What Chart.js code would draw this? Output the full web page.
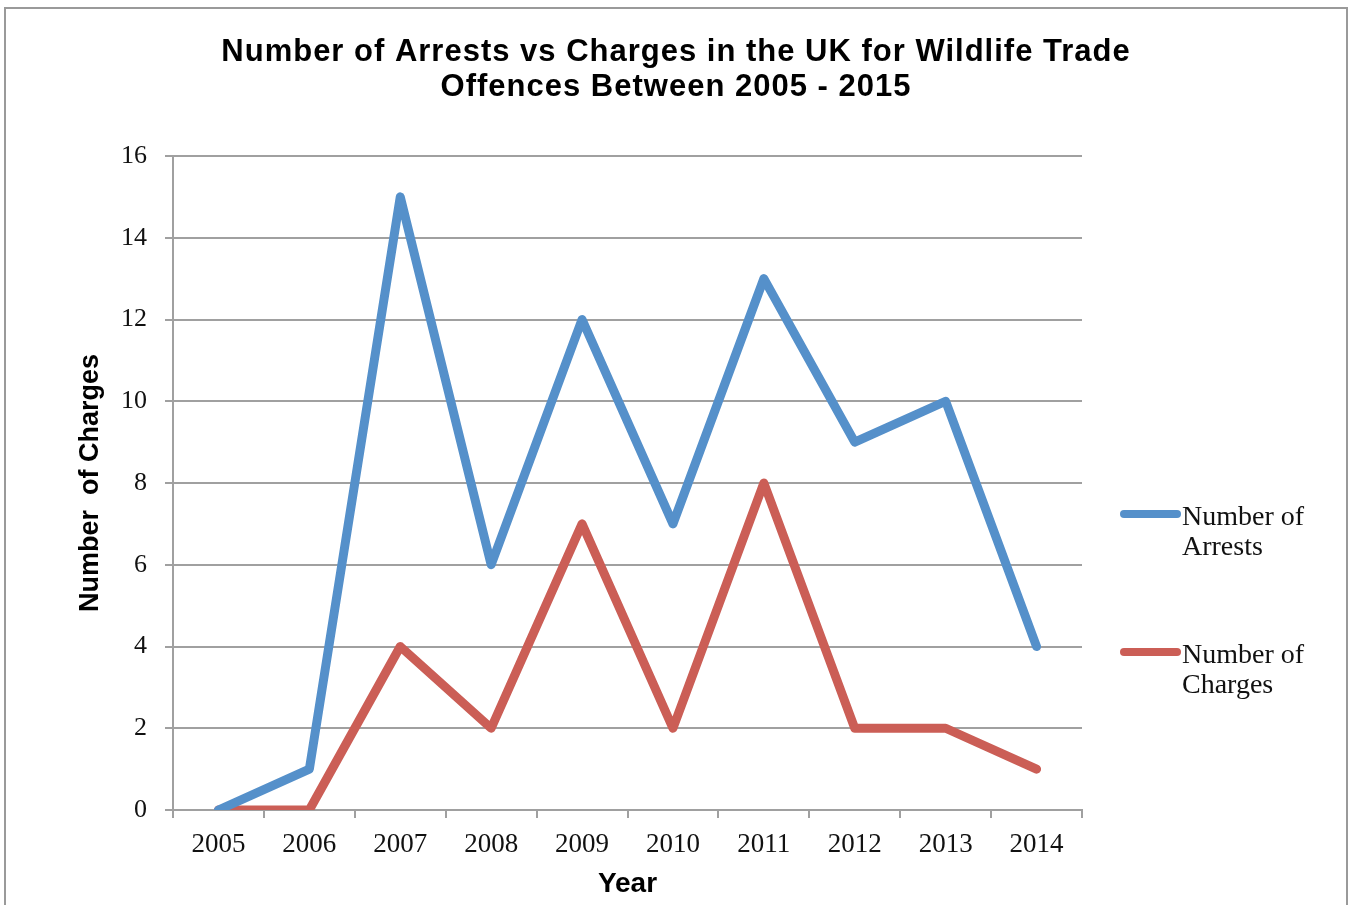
<!DOCTYPE html>
<html>
<head>
<meta charset="utf-8">
<script src="https://cdn.jsdelivr.net/npm/chart.js@4/dist/chart.umd.min.js"></script>
<style>
  html, body { margin: 0; padding: 0; background: #fff; }
  #wrap { width: 1352px; height: 905px; }
</style>
</head>
<body>
<div id="wrap"><canvas id="myChart" width="1352" height="905"></canvas></div>
<script>
// values
const years = ['2005', '2006', '2007', '2008', '2009', '2010', '2011', '2012', '2013', '2014'];
const arrests = [0, 1, 15, 6, 12, 7, 13, 9, 10, 4];
const charges = [0, 0, 4, 2, 7, 2, 8, 2, 2, 1];
const titleLines = ['Number of Arrests vs Charges in the UK for Wildlife Trade', 'Offences Between 2005 - 2015'];

const gridGrey = '#a0a0a0';
const serif = '"Liberation Serif", "Times New Roman", serif';
const sans = '"Liberation Sans", Arial, sans-serif';

// frame, title and the two-line legend are painted here
const decorations = {
    id: 'decorations',
    beforeDraw(chart) {
        const ctx = chart.ctx;
        ctx.save();
        ctx.strokeStyle = '#9a9a9a';
        ctx.lineWidth = 2;
        ctx.strokeRect(5, 8, 1342, 920);
        ctx.restore();
    },
    afterDraw(chart) {
        const ctx = chart.ctx;
        ctx.save();
        ctx.fillStyle = '#000';
        ctx.font = 'bold 31px ' + sans;
        ctx.letterSpacing = '1px';
        ctx.textAlign = 'center';
        ctx.textBaseline = 'middle';
        titleLines.forEach(function (t, i) {
            ctx.fillText(t, 676, 52 + i * 35);
        });
        ctx.letterSpacing = '0px';

        const rows = [514, 652];
        chart.data.datasets.forEach(function (ds, i) {
            const y = rows[i];
            ctx.strokeStyle = ds.borderColor;
            ctx.lineWidth = 8;
            ctx.lineCap = 'round';
            ctx.beginPath();
            ctx.moveTo(1124, y);
            ctx.lineTo(1177, y);
            ctx.stroke();
            const cut = ds.label.lastIndexOf(' ');
            const lines = [ds.label.slice(0, cut), ds.label.slice(cut + 1)];
            ctx.fillStyle = '#111';
            ctx.font = '28px ' + serif;
            ctx.textAlign = 'left';
            ctx.textBaseline = 'middle';
            lines.forEach(function (t, j) {
                ctx.fillText(t, 1182, y + 4 + j * 30);
            });
        });
        ctx.restore();
    }
};

const ctx = document.getElementById('myChart').getContext('2d');
const myChart = new Chart(ctx, {
    type: 'line',
    data: {
        labels: years,
        datasets: [{
            label: 'Number of Arrests',
            data: arrests,
            borderColor: '#5590ca',
            backgroundColor: '#5590ca'
        }, {
            label: 'Number of Charges',
            data: charges,
            borderColor: '#cb5e56',
            backgroundColor: '#cb5e56'
        }]
    },
    options: {
        responsive: false,
        animation: false,
        layout: { padding: { left: 0, top: 156, right: 270, bottom: 0 } },
        elements: {
            line: { borderWidth: 9, tension: 0, borderCapStyle: 'round', borderJoinStyle: 'round' },
            point: { radius: 0, hoverRadius: 0 }
        },
        plugins: {
            legend: { display: false },
            title: { display: false },
            tooltip: { enabled: false }
        },
        scales: {
            x: {
                offset: true,
                afterFit: function (scale) { scale.height = 95; },
                grid: { offset: true, drawOnChartArea: false, color: gridGrey, lineWidth: 2, tickLength: 8 },
                border: { color: gridGrey, width: 2 },
                ticks: { color: '#111', font: { family: serif, size: 27 }, padding: 11 },
                title: {
                    display: true,
                    text: 'Year',
                    color: '#000',
                    font: { family: sans, size: 28, weight: 'bold' },
                    padding: { top: 4, bottom: 4 }
                }
            },
            y: {
                min: 0,
                max: 16,
                afterFit: function (scale) { scale.width = 173; },
                grid: { color: gridGrey, lineWidth: 2, tickLength: 8 },
                border: { color: gridGrey, width: 2 },
                ticks: { stepSize: 2, color: '#111', font: { family: serif, size: 26 }, padding: 18 },
                title: {
                    display: true,
                    text: 'Number  of Charges',
                    color: '#000',
                    font: { family: sans, size: 27, weight: 'bold' },
                    padding: { top: 74, bottom: 0 }
                }
            }
        }
    },
    plugins: [decorations]
});
</script>
</body>
</html>
